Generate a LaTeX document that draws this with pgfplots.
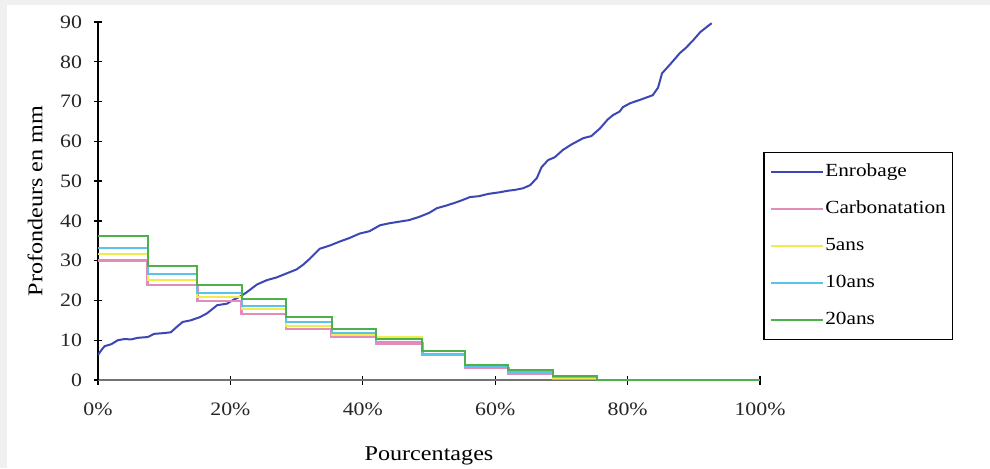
\documentclass[border=0pt]{standalone}
\usepackage{fontspec}
\setmainfont{Liberation Serif}[FakeStretch=1.15]
\usepackage{pgfplots}
\pgfplotsset{compat=1.18}

\definecolor{enrob}{RGB}{60,70,180}
\definecolor{carbo}{RGB}{226,140,186}
\definecolor{cinq}{RGB}{240,236,80}
\definecolor{dix}{RGB}{90,196,232}
\definecolor{vingt}{RGB}{76,176,76}

\begin{document}
\begin{tikzpicture}
\fill[gray!12] (0,0) rectangle (990pt,468pt);
\fill[white] (7pt,0) rectangle (990pt,463pt);
\begin{axis}[
    at={(98pt,88pt)}, anchor=south west,
    width=662pt, height=358pt, scale only axis,
    xmin=0, xmax=100, ymin=0, ymax=90,
    axis x line=bottom, axis y line=left,
    x axis line style={-, draw=black!55, line width=1.8pt},
    y axis line style={-, draw=black, line width=1.3pt},
    xtick={0,20,...,100}, ytick={0,10,...,90},
    tick align=center, major tick length=9pt,
    tick style={black, line width=1.3pt},
    /pgf/number format/assume math mode=true,
    xticklabel={\pgfmathprintnumber{\tick}\%},
    tick label style={font=\fontsize{19}{21}\selectfont, text=black!85},
    xticklabel style={yshift=-15pt},
    yticklabel style={xshift=-8pt},
    xlabel={Pourcentages},
    ylabel={Profondeurs en mm},
    label style={font=\fontsize{21}{24}\selectfont},
    xlabel style={at={(axis description cs:0.5,0)}, anchor=north, yshift=-63pt},
    ylabel style={at={(axis description cs:-0.095,0.5)}, anchor=center},
    legend style={at={(axis description cs:1.005,0.637)}, anchor=north west,
        draw=black, line width=1.2pt, font=\fontsize{18.5}{20}\selectfont,
        inner xsep=6pt, inner ysep=10pt, row sep=18pt,
        nodes={text height=13pt, text depth=4pt, inner sep=1pt}},
    legend cell align=left,
    legend image code/.code={\draw[#1] (0pt,0pt) -- (52pt,0pt);},
]
\addplot[enrob, line width=2pt] coordinates {
(0,6.3)(0.5,7.5)(1,8.5)(2,9.0)(3,10.0)(4,10.3)(5,10.2)(6,10.6)(7.5,10.8)(8.5,11.6)
(10,11.8)(11,12.0)(12,13.5)(12.8,14.6)(14,15.0)(15.4,15.8)(16.5,16.8)(18,18.8)(19.5,19.2)
(20.4,20.1)(21.5,21.0)(22.5,22.1)(24,24.0)(25.5,25.1)(27,25.8)(28.5,26.8)(30,27.8)(31,29.0)
(32,30.5)(33.5,33.0)(35,33.8)(36.5,34.8)(38,35.7)(39.5,36.8)(41,37.4)(42.6,38.9)(44,39.4)
(45.5,39.8)(47,40.2)(48.5,41.0)(50,42.0)(51.2,43.2)(52.5,43.8)(54,44.6)(55,45.2)(56.2,46.0)
(57.5,46.2)(59,46.8)(60.7,47.2)(62,47.6)(63,47.8)(64.2,48.2)(65.3,49.0)(66.3,50.8)(67,53.5)
(68,55.3)(69,56.0)(70.2,57.8)(71.5,59.2)(73.3,60.8)(74.5,61.3)(75.8,63.2)(77,65.5)(77.8,66.6)
(78.8,67.5)(79.3,68.6)(80.4,69.6)(82,70.5)(83.8,71.6)(84.6,73.5)(85.2,77.1)(86.5,79.5)
(87.9,82.2)(88.8,83.5)(89.9,85.4)(91,87.5)(92,88.8)(92.7,89.7)
};
\addlegendentry{Enrobage}
\addplot[carbo, line width=2.4pt, const plot] coordinates {
(0,30.0)(7.5,23.9)(15,19.9)(21.7,16.6)(28.4,12.8)(35.3,10.9)(42,9.2)(49,6.3)(55.4,3.0)
(62,1.6)(68.7,0.4)(75.4,0)(100,0)
};
\addlegendentry{Carbonatation}
\addplot[cinq, line width=1.8pt, const plot] coordinates {
(0,31.7)(7.5,25.1)(15,20.8)(21.7,17.8)(28.4,13.6)(35.3,11.4)(42,10.9)(49,6.6)(55.4,3.2)
(62,1.9)(68.7,0.6)(75.4,0)(100,0)
};
\addlegendentry{5ans}
\addplot[dix, line width=1.8pt, const plot] coordinates {
(0,33.2)(7.5,26.6)(15,21.9)(21.7,18.6)(28.4,14.6)(35.3,11.8)(42,9.7)(49,6.6)(55.4,3.3)
(62,2.0)(68.7,0.7)(75.4,0)(100,0)
};
\addlegendentry{10ans}
\addplot[vingt, line width=2pt, const plot] coordinates {
(0,36.3)(7.5,28.7)(15,24.0)(21.7,20.3)(28.4,15.8)(35.3,12.8)(42,10.3)(49,7.2)(55.4,3.8)
(62,2.4)(68.7,1.0)(75.4,0)(100,0)
};
\addlegendentry{20ans}
\end{axis}
\end{tikzpicture}
\end{document}
